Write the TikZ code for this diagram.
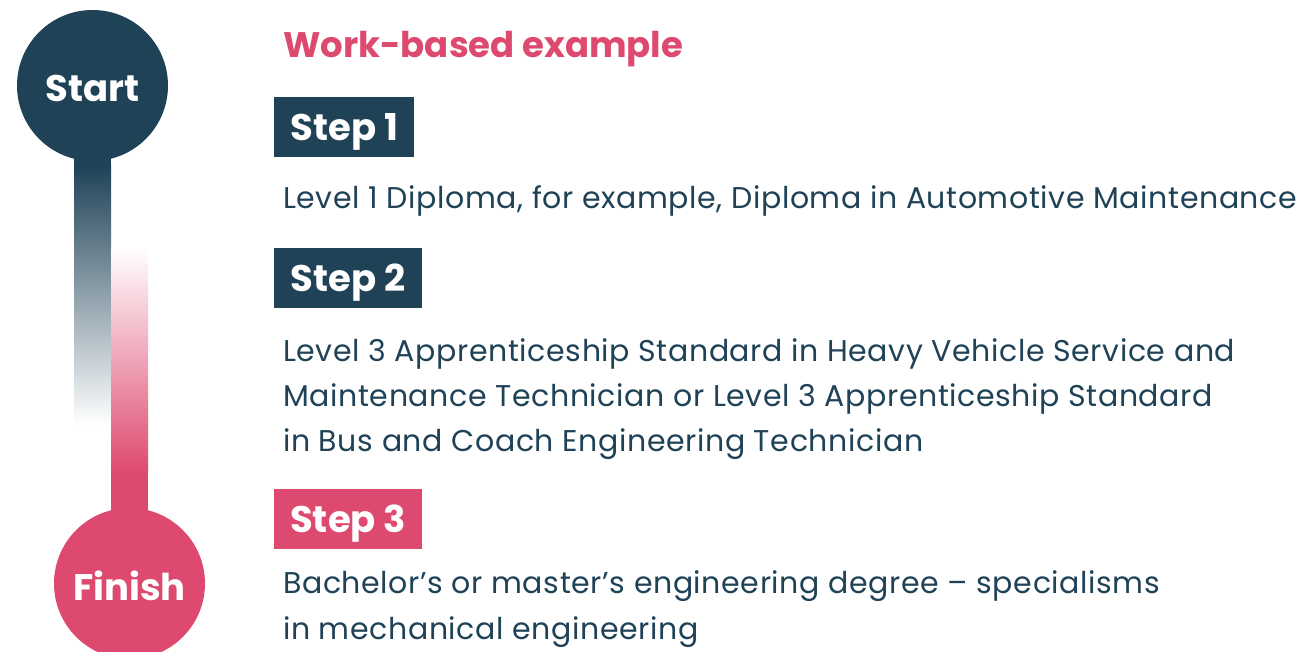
\documentclass[tikz,border=0pt]{standalone}
\usepackage{fontspec}
\setmainfont{Poppins}
\usepackage{xcolor}
\definecolor{wbNavy}{HTML}{1F4257}
\definecolor{wbPink}{HTML}{DE4A6F}
\tikzset{
  wbend/.style={circle,fill=#1,text=white,minimum size=151pt,inner sep=0pt,
                text height=33pt,text depth=0pt,
                font=\fontsize{37}{37}\selectfont\bfseries},
  wbstep/.style={fill=#1,text=white,anchor=north west,inner xsep=0pt,
                 inner ysep=16.5pt,text height=27pt,text depth=0pt,
                 font=\fontsize{37}{37}\selectfont\bfseries},
  wbtitle/.style={text=wbPink,anchor=base west,inner sep=0pt,
                  font=\fontsize{35.5}{36}\selectfont\bfseries},
  wbtext/.style={text=wbNavy,anchor=base west,inner sep=0pt,align=left,
                 font=\fontsize{30}{45}\selectfont\addfontfeatures{LetterSpace=2}}
}

\begin{document}
\begin{tikzpicture}[x=1pt,y=-1pt]
    \useasboundingbox[fill=white] (0,0) rectangle (1305,652);

    % the two bars, fading into each other
    \fill[wbNavy] (74,140) rectangle (111,165);
    \shade[top color=wbNavy,bottom color=white] (74,165) rectangle (111,425);
    \shade[top color=white,bottom color=wbPink] (111,247) rectangle (148,472);
    \fill[wbPink] (111,472) rectangle (148,530);

    \node[wbend=wbNavy] (start) at (92.5,85.5) {Start};
    \node[wbend=wbPink] (finish) at (129.5,583.5) {Finish};

    \node[wbtitle] (title) at (283,58) {Work-based example};

    \node[wbstep=wbNavy,minimum width=140pt] (step1) at (274,97) {Step 1};
    \node[wbtext] (text1) at (283,209)
      {Level 1 Diploma, for example, Diploma in Automotive Maintenance};

    % multi-line texts sit on the baseline of their last line
    \node[wbstep=wbNavy,minimum width=148pt] (step2) at (274,248) {Step 2};
    \node[wbtext] (text2) at (283,451)
      {Level 3 Apprenticeship Standard in Heavy Vehicle Service and\\
       Maintenance Technician or Level 3 Apprenticeship Standard\\
       in Bus and Coach Engineering Technician};

    \node[wbstep=wbPink,minimum width=148pt] (step3) at (274,489) {Step 3};
    \node[wbtext,font=\fontsize{30}{46}\selectfont\addfontfeatures{LetterSpace=2}]
      (text3) at (283,639)
      {Bachelor’s or master’s engineering degree – specialisms\\
       in mechanical engineering};
\end{tikzpicture}
\end{document}
